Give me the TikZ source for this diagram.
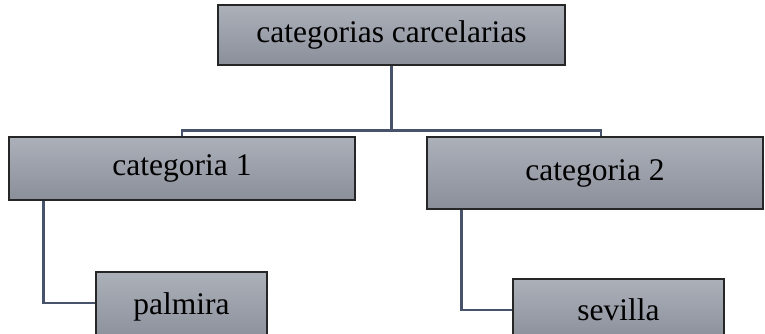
\documentclass[tikz,border=0pt]{standalone}
\usepackage{fontspec}
\setmainfont{Liberation Serif}
\usepackage{xcolor}
\usepackage{tikz}
\usetikzlibrary{positioning}
\definecolor{boxtop}{HTML}{ACB0B9}
\definecolor{boxbottom}{HTML}{8A8F9A}
\definecolor{linkcolor}{HTML}{46536A}
\tikzset{
  catblock/.style={
    draw=black!85,
    line width=1.3pt,
    align=center,
    inner sep=0pt,
    top color=boxtop,
    bottom color=boxbottom,
    font=\fontsize{31.5}{36}\selectfont
  },
  catlink/.style={linkcolor, line width=2.8pt}
}
\begin{document}
\begin{tikzpicture}[x=1pt,y=-1pt]
\useasboundingbox (0,0) rectangle (765,334);
\node[catblock, minimum width=347pt, minimum height=60pt] (root) at (391.5,35) {categorias carcelarias};
\node[catblock, minimum width=346pt, minimum height=63pt] (cat1) at (182,168.5) {categoria 1};
\node[catblock, minimum width=336pt, minimum height=72pt] (cat2) at (595,173) {categoria 2};
\node[catblock, minimum width=171pt, minimum height=70pt] (palmira) at (181.5,307) {palmira};
\node[catblock, minimum width=211pt, minimum height=62pt] (sevilla) at (618.5,310) {sevilla};
\coordinate (split) at (391.5,130.5);

\draw[catlink] (root) -- (split);
\draw[catlink] (cat1.north) |- (split);
\draw[catlink] (split) -| ([xshift=6pt]cat2.north);
\draw[catlink] ([xshift=35pt]cat1.south west) |- ([yshift=4pt]palmira.west);
\draw[catlink] ([xshift=35pt]cat2.south west) |- (sevilla.west);
\end{tikzpicture}
\end{document}
